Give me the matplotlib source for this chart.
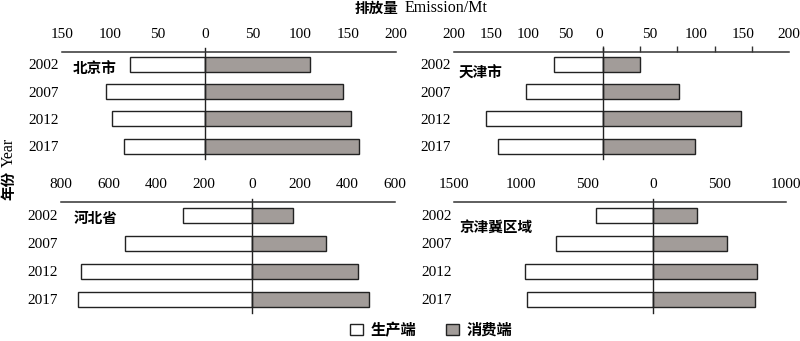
import matplotlib.pyplot as plt
from matplotlib.patches import Patch

plt.rcParams['font.family'] = ['Liberation Serif', 'Noto Sans CJK SC']

years = ['2002', '2007', '2012', '2017']
regions = ['北京市', '天津市', '河北省', '京津冀区域']

# production side (drawn to the left) and consumption side, Mt
prod_bj = [79, 104, 98, 85]
cons_bj = [110, 144, 153, 161]
prod_tj = [53, 83, 126, 113]
cons_tj = [40, 82, 148, 99]
prod_hb = [287, 531, 717, 727]
cons_hb = [174, 311, 443, 490]
prod_jjj = [431, 735, 971, 953]
cons_jjj = [327, 553, 778, 768]

# top axis: tick marks, label positions and label texts
marks_bj = [-150, -100, -50, 0, 50, 100, 150, 200]
labpos_bj = marks_bj
labels_bj = ['150', '100', '50', '0', '50', '100', '150', '200']
marks_tj = [-160, -120, -80, -40, 0, 40, 80, 120, 160, 200]
labpos_tj = [-160, -120, -80, -40, -4, 50, 100, 150, 200]
labels_tj = ['200', '150', '100', '50', '0', '50', '100', '150', '200']
marks_hb = [-800, -600, -400, -200, 0, 200, 400, 600]
labpos_hb = marks_hb
labels_hb = ['800', '600', '400', '200', '0', '200', '400', '600']
marks_jjj = [-1500, -1000, -500, 0, 500, 1000]
labpos_jjj = marks_jjj
labels_jjj = ['1500', '1000', '500', '0', '500', '1000']

panels = [
    (prod_bj, cons_bj, marks_bj, labpos_bj, labels_bj, (-150, 200),
     [0.0775, 0.533, 0.4175, 0.3155], (0.033, 0.849)),
    (prod_tj, cons_tj, marks_tj, labpos_tj, labels_tj, (-160, 200),
     [0.5675, 0.533, 0.419, 0.3155], (0.015, 0.804)),
    (prod_hb, cons_hb, marks_hb, labpos_hb, labels_hb, (-800, 600),
     [0.0759, 0.083, 0.418, 0.3238], (0.040, 0.858)),
    (prod_jjj, cons_jjj, marks_jjj, labpos_jjj, labels_jjj, (-1500, 1000),
     [0.568, 0.083, 0.4146, 0.3238], (0.014, 0.776)),
]

gray = '#a29c99'
fig = plt.figure(figsize=(8, 3.41), dpi=100)

for (prod, cons, marks, labpos, labels, xlim, rect, tpos), name in zip(panels, regions):
    ax = fig.add_axes(rect)
    y = list(range(len(years)))
    ax.barh(y, [-v for v in prod], height=0.55, color='white',
            edgecolor='#222222', linewidth=1)
    ax.barh(y, cons, height=0.55, color=gray, edgecolor='#222222', linewidth=1)
    ax.axvline(0, ymin=0, ymax=1.03, color='#222222', lw=1, clip_on=False)
    ax.set_xlim(*xlim)
    ax.set_ylim(3.48, -0.47)
    ax.set_yticks(y)
    ax.set_yticklabels(years, fontsize=11)
    ax.tick_params(axis='y', length=0, pad=2)
    ax.xaxis.tick_top()
    ax.set_xticks(marks, minor=True)
    ax.set_xticks(labpos)
    ax.set_xticklabels(labels, fontsize=11)
    ax.tick_params(axis='x', which='major', length=0, pad=8)
    ax.tick_params(axis='x', which='minor', length=4, width=1, color='#333333',
                   direction='out', top=True, bottom=False)
    for s in ['left', 'right', 'bottom']:
        ax.spines[s].set_visible(False)
    ax.spines['top'].set_linewidth(1.1)
    ax.spines['top'].set_color('#333333')
    ax.text(tpos[0], tpos[1], name, transform=ax.transAxes, fontsize=10.5,
            fontweight='bold', va='center', ha='left', family='Noto Sans CJK SC')

# axis titles: Chinese part bold, English part regular serif
fig.text(0.4706, 0.976, '排放量', ha='center', va='center', fontsize=10.5,
         fontweight='bold', family='Noto Sans CJK SC')
fig.text(0.557, 0.976, 'Emission/Mt', ha='center', va='center', fontsize=11.5)
fig.text(0.011, 0.4575, '年份', rotation=90, ha='center', va='center', fontsize=10.5,
         fontweight='bold', family='Noto Sans CJK SC')
fig.text(0.011, 0.553, 'Year', rotation=90, ha='center', va='center', fontsize=11.5)

handles = [Patch(facecolor='white', edgecolor='#222222', label='生产端'),
           Patch(facecolor=gray, edgecolor='#222222', label='消费端')]
fig.legend(handles=handles, loc='center', bbox_to_anchor=(0.539, 0.033), ncol=2,
           frameon=False, handlelength=0.8, handleheight=0.8,
           handletextpad=0.5, columnspacing=2.0,
           prop={'family': ['Noto Sans CJK SC'], 'weight': 'bold', 'size': 11})

fig.savefig('out.png', dpi=100)
